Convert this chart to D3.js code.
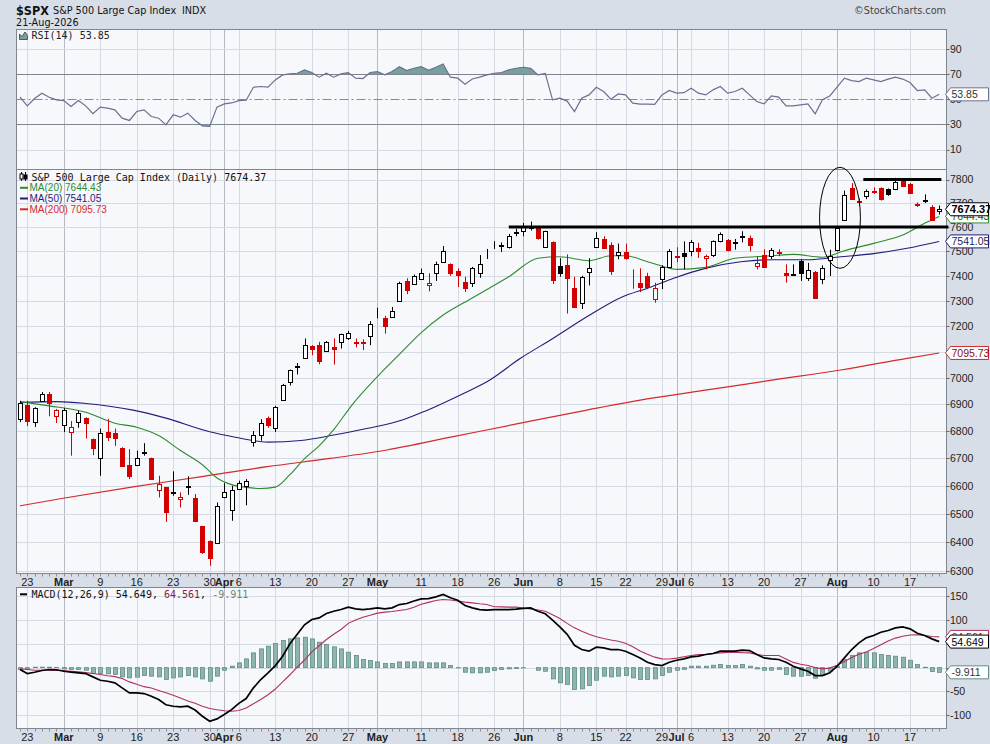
<!DOCTYPE html>
<html><head><meta charset="utf-8">
<script src="https://cdn.jsdelivr.net/npm/d3@7/dist/d3.min.js"></script>
<style>
html,body{margin:0;padding:0;background:#d9dfe8;}
svg{display:block;font-family:"Liberation Sans",Arial,sans-serif;}
</style></head><body>
<svg id="chart" width="990" height="744"></svg>
<script>
// ---------------- DATA ----------------
const firstDay = "2026-02-20", lastDay = "2026-08-21";
const holidays = ["2026-04-03","2026-05-25","2026-06-19","2026-07-03"];

const open = [
6843,6898,6834,6912,6940,6857,6823,6798,6833,6849,
6770,6699,6796,6791,6739,6675,6675,6718,6700,6584,
6594,6574,6552,6596,6555,6455,6403,6398,6558,6512,
6590,6599,6758,6787,6848,6812,6916,6984,7041,7077,
7122,7126,7104,7119,7139,7155,7140,7138,7163,7235,
7231,7238,7300,7380,7369,7388,7364,7411,7458,7447,
7420,7376,7370,7413,7472,7516,7523,7518,7577,7583,
7598,7600,7518,7540,7440,7444,7352,7293,7415,7518,
7552,7526,7484,7497,7369,7371,7400,7309,7389,7437,
7483,7493,7500,7514,7473,7487,7541,7545,7535,7560,
7555,7441,7487,7483,7499,7413,7405,7460,7391,7417,
7389,7463,7504,7630,7766,7710,7731,7750,7762,7758,
7758,7793,7782,7697,7710,7682,7666];
const high = [
6913,6913,6889,6946,6946,6882,6885,6837,6876,6851,
6772,6809,6845,6809,6740,6733,6727,6755,6702,6636,
6596,6652,6576,6634,6570,6457,6406,6540,6609,6600,
6618,6624,6800,6844,6854,6894,6977,7032,7057,7152,
7126,7139,7142,7152,7171,7182,7152,7149,7220,7273,
7241,7276,7377,7391,7406,7430,7411,7458,7522,7451,
7431,7397,7437,7485,7510,7542,7537,7572,7593,7617,
7623,7602,7585,7541,7472,7488,7397,7401,7472,7579,
7562,7537,7532,7532,7427,7431,7413,7373,7443,7509,
7517,7541,7547,7535,7487,7545,7578,7551,7551,7583,
7565,7480,7509,7514,7509,7447,7447,7467,7453,7420,
7443,7507,7597,7753,7785,7721,7758,7766,7766,7762,
7807,7803,7785,7703,7737,7692,7690];
const low = [
6833,6818,6815,6910,6855,6830,6796,6709,6812,6772,
6711,6636,6763,6745,6670,6624,6672,6709,6622,6558,
6471,6564,6522,6567,6471,6359,6318,6397,6555,6475,
6588,6530,6742,6764,6812,6796,6913,6971,7013,7077,
7087,7052,7102,7051,7113,7146,7117,7107,7126,7231,
7171,7235,7297,7327,7364,7384,7338,7380,7455,7401,
7356,7336,7356,7393,7469,7510,7498,7512,7562,7562,
7586,7548,7516,7368,7397,7250,7272,7268,7362,7514,
7510,7404,7468,7466,7349,7335,7347,7293,7347,7436,
7456,7427,7480,7473,7427,7477,7537,7500,7507,7537,
7500,7427,7433,7469,7480,7373,7400,7380,7380,7312,
7367,7400,7500,7627,7717,7690,7717,7739,7711,7731,
7755,7771,7739,7684,7700,7627,7652];
const close = [
6906,6837,6885,6940,6904,6877,6880,6815,6867,6830,
6739,6794,6779,6774,6672,6634,6699,6721,6624,6606,
6506,6577,6558,6599,6475,6365,6345,6528,6576,6584,
6611,6616,6787,6829,6821,6891,6974,7029,7045,7126,
7113,7064,7139,7113,7168,7175,7135,7133,7208,7237,
7200,7262,7373,7343,7401,7413,7371,7447,7501,7411,
7404,7352,7433,7447,7474,7518,7525,7565,7579,7602,
7603,7554,7583,7384,7411,7391,7274,7397,7433,7554,
7512,7421,7497,7472,7367,7357,7355,7350,7437,7500,
7477,7480,7537,7500,7483,7541,7573,7507,7538,7563,
7528,7452,7437,7507,7493,7403,7408,7411,7424,7313,
7433,7483,7597,7735,7717,7705,7753,7747,7718,7739,
7789,7774,7741,7694,7713,7630,7674.37];

// moving averages read at sample trading-day positions
const ma20Day = [0,4,9,13,16,19,22,25,27,29,31,33,35,37,39,41,43,45.5,49,52,55,58,62,67,71,74,78,81,83,86,88,90,94,98,103,106,110,113,117,121,124,126];
const ma20Val = [6910,6894,6870,6829,6814,6783,6728,6676,6628,6604,6594,6590,6595,6640,6698,6745,6805,6897,7005,7090,7175,7244,7312,7397,7472,7478,7462,7482,7482,7458,7440,7427,7435,7472,7482,7488,7476,7503,7533,7567,7616,7644.43];
const ma50Day = [0,5,9,15.5,20,26,29.5,34,38.5,43,47.7,52.4,55.6,60.8,64,68.6,73.1,77.7,82.3,86.4,89.6,94.2,98.8,103.3,107.9,112.5,117,121.6,126];
const ma50Val = [6906,6910,6903,6878,6848,6797,6777,6759,6765,6785,6810,6841,6875,6941,6985,7075,7153,7237,7313,7355,7391,7433,7458,7466,7466,7478,7491,7513,7541.05];
const ma200Day = [0,5.9,15.5,24.7,33.9,42.5,50.3,59.4,68.6,77.7,86.4,94.2,103.3,112.5,121.6,126];
const ma200Val = [6528,6555,6596,6632,6669,6699,6730,6779,6829,6878,6922,6954,6992,7030,7075,7095.73];

const rsi = [
51.6,44.7,50.5,54.8,51.5,49.5,48.9,44.2,48.9,44.7,
38.4,43.7,42.9,41.5,34.9,33.1,40.2,41.5,36.2,34.9,
29.6,37.6,35.7,38.9,33.1,28.8,28.3,43.7,46.3,47.0,
48.9,49.2,59.5,60.1,59.6,65.3,69.3,70.1,70.6,73.3,
71.2,67.5,70.6,67.5,70.1,71.2,66.7,66.4,71.2,72.0,
69.3,72.0,75.9,72.8,74.6,75.9,73.0,75.4,78.0,67.5,
66.7,61.9,66.1,67.5,69.3,70.6,71.2,73.3,74.6,75.4,
74.5,69.3,70.5,49.5,50.8,48.5,40.2,50.8,53.4,59.5,
56.1,50.0,54.2,53.4,46.8,46.0,46.0,45.8,53.4,56.9,
54.8,55.2,58.7,54.8,53.4,57.4,60.1,54.8,56.1,58.7,
53.4,48.1,46.3,52.6,51.6,44.7,44.7,45.5,46.3,38.4,
49.5,52.6,59.5,66.7,64.8,64.0,66.7,65.3,64.0,65.9,
67.5,66.0,63.2,56.9,57.4,50.8,53.85];

const macd = [
-4,-12.5,-9.7,-6,-4,-4.5,-7.6,-9.5,-11.1,-12.5,
-19.5,-26.5,-28.6,-32.1,-42.6,-53.1,-53.1,-54.5,-60.1,-67.1,
-78,-81.1,-82.6,-81.1,-89,-102.1,-112.6,-107.7,-98.6,-88.2,
-75,-65,-42.6,-25.1,-11.1,4.3,23.9,50,70,90,
101,104.5,113.6,118.5,122,126.9,123.4,122,123.4,125.5,
123.4,125.5,132.5,134.6,140,144.4,145.1,148.6,153.6,146.6,
141.6,130.4,125.5,122,120.6,122,122,122,123,124.5,
125.5,118.5,113,100,85.6,70,47,38,34.5,42.9,
41.5,38,38,34.5,27.5,20.4,11.3,6.4,4.3,11.3,
15.5,18.3,22.5,24,27.5,29.6,34.5,34.5,34.5,36.6,
35.9,27.5,20.4,18.3,17,11.3,2.9,-2.7,-7.6,-16.7,
-16.7,-11,2.9,20.4,38,52,62.5,67.4,74.4,78,
83.5,85.6,81.4,72,67.4,60.4,54.649];
const signal = [
-2.7,-4,-5.5,-5.5,-5.5,-5.8,-6.1,-7.5,-9,-10.5,
-12.5,-14.6,-17,-19,-23,-30,-35,-40,-43,-48,
-53,-58,-64,-70,-75,-81,-86,-88.5,-90.5,-91.5,
-90,-85,-76,-67,-57,-45,-30,-15,1,16,
33,46,59,70,80,93,100,106,110,114.5,
116.5,118,120,122,127,133,137,141,143,142,
140,137.5,136,134,132.5,128,127.5,127,127,125,
123,121,118.5,111,103,93,83.5,76.5,70,65,
61,58,55.5,51,44,35,28,22,18.3,18,
20,23,25.5,27.5,27.5,29.5,31,32,32.4,31.5,
31,27.5,25.4,25.4,25.4,18,11,7,4.3,0,
-2.7,-1,5,13,21,28,33,40,48,56,
62,66,68.5,69,67.5,65.5,64.561];
const hist = [
-4,-2.7,1,1,1,0.5,-2.7,-4,-4,-5.5,
-12.5,-12.5,-13,-14.6,-19.5,-21.6,-20,-16.7,-18,-19.5,
-25,-21.6,-19.5,-16.7,-19.5,-23.7,-28.6,-18,-5.5,3,
10,18.3,31,39.4,45,50.6,56.9,60.4,62.5,63.9,
60.4,53.4,48.5,43.6,39.4,32.4,25.4,17,14.8,12,
8.5,8.5,12,12,12,12,10,10,10,4.3,
-0.6,-9.7,-11,-11,-9.7,-6,-4,-2.7,-2,-0.6,
0,-5.5,-7.6,-23.7,-32,-35.6,-46,-44.7,-37.7,-26.5,
-18,-19.5,-18,-16.7,-21.6,-25,-25,-23.7,-16.7,-9.7,
-5.5,-4,3,3,3,5,6.4,4.3,4.3,6.4,
3,-2.7,-5.5,-5.5,-4,-14.6,-18,-18,-16.7,-22.3,
-16.7,-7.6,3,17,25.4,31,32.4,31,27.5,25.4,
24,21.8,15.5,6.4,0.8,-8.3,-9.911];

const tickDates = ["2026-02-23","2026-03-02","2026-03-09","2026-03-16","2026-03-23","2026-03-30","2026-04-01","2026-04-06","2026-04-13","2026-04-20","2026-04-27","2026-05-01","2026-05-11","2026-05-18","2026-05-26","2026-06-01","2026-06-08","2026-06-15","2026-06-22","2026-06-29","2026-07-01","2026-07-06","2026-07-13","2026-07-20","2026-07-27","2026-08-03","2026-08-10","2026-08-17"];
const tickLabels = ["23","Mar","9","16","23","30","Apr","6","13","20","27","May","11","18","26","Jun","8","15","22","29","Jul","6","13","20","27","Aug","10","17"];
const priceTicks = [6300,6400,6500,6600,6700,6800,6900,7000,7100,7200,7300,7400,7500,7600,7700,7800];
const priceLabels = [6300,6400,6500,6600,6700,6800,6900,7000,7200,7300,7400,7500,7600,7700,7800];
const rsiTicks = [10,30,50,70,90];
const macdTicks = [-100,-50,0,50,100,150];
const macdLabels = [-100,-50,100,150];

// annotations (price levels, trading-day positions)
const levelPrice = [7600, 7800];
const levelFrom = [67.0, 115.6];
const levelTo = [127.25, 126.3];
const ovalDay = [109.6, 115.2];
const ovalPrice = [7431, 7852];

// ---------------- BUILD ----------------
const dates = [];
{
  const end = new Date(lastDay + "T12:00:00Z");
  for (let d = new Date(firstDay + "T12:00:00Z"); d <= end; d.setUTCDate(d.getUTCDate() + 1)) {
    const w = d.getUTCDay(), s = d.toISOString().slice(0, 10);
    if (w !== 0 && w !== 6 && !holidays.includes(s)) dates.push(s);
  }
}
const dayIndex = new Map(dates.map((d, i) => [d, i]));
const N = dates.length;

const L = 16.5, R = 946.5;
const rsiTop = 29.5, rsiBot = 169.5, mainTop = 169.5, mainBot = 573.5, macdTop = 587.5, macdBot = 728.5;
const x = d3.scaleLinear().domain([-0.48, 127.0]).range([L, R]);
const yP = d3.scaleLog().domain([6291.4, 7842.7]).range([mainBot, mainTop]);
const yR = d3.scaleLinear().domain([-5.9, 105.4]).range([rsiBot, rsiTop]);
const yM = d3.scaleLinear().domain([-127.9, 168.3]).range([macdBot, macdTop]);

const FRAME = "#d8dee7", BG = "#f6f8fb", GRID = "#d6dbe3", GRIDM = "#b4b9c3", BORDER = "#80858f";
const RED = "#d40000";
const MONO = "'DejaVu Sans Mono',monospace";
const WIDE = "'DejaVu Sans',Verdana,sans-serif";

const svg = d3.select("#chart");
svg.append("rect").attr("width", 990).attr("height", 744).attr("fill", FRAME);

const defs = svg.append("defs");
function clip(id, y0, y1) {
  defs.append("clipPath").attr("id", id).append("rect")
    .attr("x", L).attr("y", y0).attr("width", R - L).attr("height", y1 - y0);
}
clip("cR", rsiTop, rsiBot); clip("cM", mainTop, mainBot); clip("cD", macdTop, macdBot);
clip("cHi", rsiTop, yR(70)); clip("cLo", yR(30), rsiBot);

const panels = [[rsiTop, rsiBot], [mainTop, mainBot], [macdTop, macdBot]];
panels.forEach(([t, b]) => svg.append("rect").attr("x", L).attr("y", t).attr("width", R - L).attr("height", b - t).attr("fill", BG));

const tickIdx = tickDates.map(d => dayIndex.get(d));
const isMonth = s => /[A-Za-z]/.test(s);
const crisp = v => Math.round(v) + 0.5;

// vertical grid
panels.forEach(([t, b]) => {
  svg.append("g").selectAll("line").data(tickIdx).join("line")
    .attr("x1", d => crisp(x(d))).attr("x2", d => crisp(x(d)))
    .attr("y1", t).attr("y2", b)
    .attr("stroke", (d, i) => isMonth(tickLabels[i]) ? GRIDM : GRID).attr("stroke-width", 1);
});
// horizontal grid
svg.append("g").selectAll("line").data(priceTicks).join("line")
  .attr("x1", L).attr("x2", R).attr("y1", d => crisp(yP(d))).attr("y2", d => crisp(yP(d)))
  .attr("stroke", GRID);
svg.append("g").selectAll("line").data(rsiTicks).join("line")
  .attr("x1", L).attr("x2", R).attr("y1", d => crisp(yR(d))).attr("y2", d => crisp(yR(d)))
  .attr("stroke", d => (d === 70 || d === 30) ? "#7f838c" : (d === 50 ? "#858a94" : GRID))
  .attr("stroke-dasharray", d => d === 50 ? "9,3,2,3" : null);
svg.append("g").selectAll("line").data(macdTicks).join("line")
  .attr("x1", L).attr("x2", R).attr("y1", d => crisp(yM(d))).attr("y2", d => crisp(yM(d)))
  .attr("stroke", GRID);

// ---- RSI ----
const gR = svg.append("g").attr("clip-path", "url(#cR)");
gR.append("path").datum(rsi).attr("clip-path", "url(#cHi)")
  .attr("d", d3.area().x((d, i) => x(i)).y0(yR(70)).y1(d => yR(d))).attr("fill", "#76a19e");
gR.append("path").datum(rsi).attr("clip-path", "url(#cLo)")
  .attr("d", d3.area().x((d, i) => x(i)).y0(yR(30)).y1(d => yR(d))).attr("fill", "#76a19e");
gR.append("path").datum(rsi).attr("fill", "none").attr("stroke", "#6c7090").attr("stroke-width", 1.2)
  .attr("d", d3.line().x((d, i) => x(i)).y(d => yR(d)));

// ---- MAIN ----
const gM = svg.append("g").attr("clip-path", "url(#cM)");
function maLine(days, vals, col, w) {
  gM.append("path").datum(days.map((d, i) => [d, vals[i]]))
    .attr("fill", "none").attr("stroke", col).attr("stroke-width", w)
    .attr("d", d3.line().x(d => x(d[0])).y(d => yP(d[1])).curve(d3.curveMonotoneX));
}
maLine(ma200Day, ma200Val, "#d42a2a", 1.2);
maLine(ma50Day, ma50Val, "#1f1f7a", 1.1);
maLine(ma20Day, ma20Val, "#2f8a2f", 1.1);

const candles = d3.range(N).map(i => {
  const up = i === 0 || close[i] >= close[i - 1];
  return { i, o: open[i], h: high[i], l: low[i], c: close[i], col: up ? "#000" : RED, filled: close[i] < open[i] };
});
const cg = gM.append("g").selectAll("g").data(candles).join("g");
cg.append("line")
  .attr("x1", d => Math.round(x(d.i)) + 0.5).attr("x2", d => Math.round(x(d.i)) + 0.5)
  .attr("y1", d => yP(d.h)).attr("y2", d => yP(d.l)).attr("stroke", d => d.col).attr("stroke-width", 1);
cg.append("rect")
  .attr("x", d => Math.round(x(d.i)) - 1.5).attr("width", 4)
  .attr("y", d => crisp(yP(Math.max(d.o, d.c))))
  .attr("height", d => Math.max(0, crisp(yP(Math.min(d.o, d.c))) - crisp(yP(Math.max(d.o, d.c)))))
  .attr("fill", d => d.filled ? d.col : "#fff").attr("stroke", d => d.col).attr("stroke-width", 1);

// ---- MACD ----
const gD = svg.append("g").attr("clip-path", "url(#cD)");
gD.append("g").selectAll("rect").data(hist).join("rect")
  .attr("x", (d, i) => Math.round(x(i)) - 1.5).attr("width", 4)
  .attr("y", d => yM(Math.max(0, d))).attr("height", d => Math.abs(yM(0) - yM(d)))
  .attr("fill", "#8cb5ae").attr("stroke", "#5f8c85").attr("stroke-width", 0.8);
gD.append("path").datum(signal).attr("fill", "none").attr("stroke", "#b0305e").attr("stroke-width", 1.1)
  .attr("d", d3.line().x((d, i) => x(i)).y(d => yM(d)));
gD.append("path").datum(macd).attr("fill", "none").attr("stroke", "#000").attr("stroke-width", 1.7)
  .attr("d", d3.line().x((d, i) => x(i)).y(d => yM(d)));

// borders
panels.forEach(([t, b]) => svg.append("rect").attr("x", L).attr("y", t).attr("width", R - L).attr("height", b - t)
  .attr("fill", "none").attr("stroke", BORDER).attr("stroke-width", 1));

// day ticks under main & macd
[mainBot, macdBot].forEach(yb => {
  svg.append("g").selectAll("line").data(d3.range(N)).join("line")
    .attr("x1", i => Math.round(x(i)) + 0.5).attr("x2", i => Math.round(x(i)) + 0.5)
    .attr("y1", yb).attr("y2", yb + 3).attr("stroke", "#8a8f99");
});

// date labels
[mainBot + 12, macdBot + 12].forEach(yb => {
  svg.append("g").selectAll("text").data(tickIdx).join("text")
    .attr("x", d => x(d)).attr("y", yb).attr("text-anchor", "middle")
    .attr("font-size", 11).attr("fill", "#222")
    .attr("font-weight", (d, i) => isMonth(tickLabels[i]) ? "bold" : "normal")
    .text((d, i) => tickLabels[i]);
});

// right axis labels + ticks
function rightAxis(ticks, labels, scale) {
  const g = svg.append("g");
  g.selectAll("line").data(ticks).join("line")
    .attr("x1", R).attr("x2", R + 3).attr("y1", d => crisp(scale(d))).attr("y2", d => crisp(scale(d))).attr("stroke", "#666");
  g.selectAll("text").data(labels).join("text")
    .attr("x", R + 3.5).attr("y", d => scale(d) + 3.8).attr("font-size", 10.5).attr("fill", "#222").text(d => d);
}
rightAxis(priceTicks, priceLabels, yP);
rightAxis(rsiTicks, rsiTicks, yR);
rightAxis(macdTicks, macdLabels, yM);

// value tags
function tag(y, txt, col, tcol, bold) {
  const g = svg.append("g");
  g.append("path")
    .attr("d", `M${R - 1},${y} L${R + 4},${y - 6.5} L${R + 42},${y - 6.5} L${R + 42},${y + 6.5} L${R + 4},${y + 6.5} Z`)
    .attr("fill", "#fff").attr("stroke", col).attr("stroke-width", 1);
  g.append("text").attr("x", R + 5).attr("y", y + 4).attr("font-size", bold ? 11 : 10.5)
    .attr("font-weight", bold ? "bold" : "normal").attr("fill", tcol).text(txt);
}
tag(yP(ma200Val[ma200Val.length - 1]), "7095.73", "#d42a2a", "#8a1010");
tag(yP(ma50Val[ma50Val.length - 1]), "7541.05", "#1f1f7a", "#1f1f5a");
tag(yP(ma20Val[ma20Val.length - 1]), "7644.43", "#2f8a2f", "#1e4f1e");
tag(yP(close[N - 1]), "7674.37", "#000", "#000", true);
tag(yR(rsi[N - 1]), "53.85", "#6c7090", "#333");
tag(yM(signal[N - 1]), "64.561", "#b0305e", "#7a1a40");
tag(yM(macd[N - 1]), "54.649", "#000", "#000");
tag(yM(hist[N - 1]), "-9.911", "#5f8c85", "#334");

// annotations
const ga = svg.append("g");
levelPrice.forEach((p, k) => {
  ga.append("line").attr("x1", x(levelFrom[k])).attr("x2", x(levelTo[k]))
    .attr("y1", yP(p)).attr("y2", yP(p)).attr("stroke", "#000").attr("stroke-width", 3);
});
{
  const cx = (x(ovalDay[0]) + x(ovalDay[1])) / 2, rx = (x(ovalDay[1]) - x(ovalDay[0])) / 2;
  const yt = yP(ovalPrice[1]), yb = yP(ovalPrice[0]);
  ga.append("ellipse").attr("cx", cx).attr("cy", (yt + yb) / 2).attr("rx", rx).attr("ry", (yb - yt) / 2)
    .attr("fill", "none").attr("stroke", "#000").attr("stroke-width", 1);
}

// header
svg.append("text").attr("x", 16).attr("y", 15).attr("font-size", 13).attr("font-weight", "bold")
  .attr("font-family", WIDE).attr("textLength", 33).attr("lengthAdjust", "spacingAndGlyphs").attr("fill", "#111").text("$SPX");
svg.append("text").attr("x", 53).attr("y", 14).attr("font-family", WIDE).attr("font-size", 9.7).attr("fill", "#111").text("S&P 500 Large Cap Index");
svg.append("text").attr("x", 182).attr("y", 14).attr("font-family", WIDE).attr("font-size", 9.7).attr("fill", "#111").text("INDX");
svg.append("text").attr("x", 16).attr("y", 26).attr("font-family", WIDE).attr("font-size", 9.7).attr("fill", "#111").text("21-Aug-2026");
svg.append("text").attr("x", 946).attr("y", 13.5).attr("text-anchor", "end").attr("font-family", WIDE).attr("font-size", 9.7).attr("fill", "#444").text("©StockCharts.com");

// legends
// RSI
svg.append("path").attr("d", "M19.5,39.5 L19.5,34 L22,36.5 L25,32 L27.5,35.5 L27.5,39.5 Z").attr("fill", "#76a19e").attr("stroke", "#556");
svg.append("text").attr("x", 31.5).attr("y", 39).attr("font-family", MONO).attr("font-size", 10).attr("fill", "#222").text("RSI(14) 53.85");
// main
{
  const g = svg.append("g");
  g.append("line").attr("x1", 21.5).attr("x2", 21.5).attr("y1", 172).attr("y2", 181).attr("stroke", "#000");
  g.append("rect").attr("x", 20).attr("y", 174).attr("width", 3).attr("height", 5).attr("fill", "#fff").attr("stroke", "#000");
  g.append("line").attr("x1", 25.5).attr("x2", 25.5).attr("y1", 172).attr("y2", 181).attr("stroke", "#000");
  g.append("rect").attr("x", 24).attr("y", 175).attr("width", 3).attr("height", 4).attr("fill", "#000").attr("stroke", "#000");
  g.append("text").attr("x", 31.5).attr("y", 180.5).attr("font-family", MONO).attr("font-size", 10).attr("fill", "#111")
    .text("S&P 500 Large Cap Index (Daily) 7674.37");
}
[["MA(20) 7644.43", "#2f8a2f", 187.8], ["MA(50) 7541.05", "#1f1f7a", 198.5], ["MA(200) 7095.73", "#d42a2a", 209.3]].forEach(([t, c, y]) => {
  svg.append("line").attr("x1", 20).attr("x2", 28).attr("y1", y).attr("y2", y).attr("stroke", c).attr("stroke-width", 2);
  svg.append("text").attr("x", 29.5).attr("y", y + 3.6).attr("font-size", 10).attr("fill", c).text(t);
});
// MACD
{
  svg.append("line").attr("x1", 20).attr("x2", 27).attr("y1", 594.3).attr("y2", 594.3).attr("stroke", "#000").attr("stroke-width", 2);
  const t = svg.append("text").attr("x", 31.5).attr("y", 598).attr("font-family", MONO).attr("font-size", 10);
  t.append("tspan").attr("fill", "#111").text("MACD(12,26,9) 54.649");
  t.append("tspan").attr("fill", "#111").text(", ");
  t.append("tspan").attr("fill", "#8a1a4a").text("64.561");
  t.append("tspan").attr("fill", "#111").text(", ");
  t.append("tspan").attr("fill", "#5f8c85").text("-9.911");
}
</script>
</body></html>
